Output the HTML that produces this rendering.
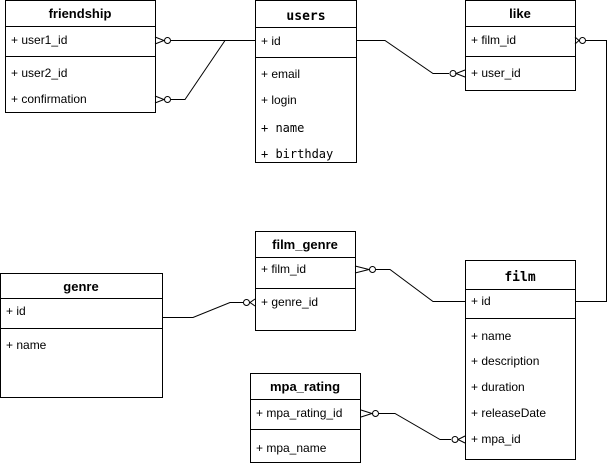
<!DOCTYPE html>
<html><head><style>body{margin:0;background:#fff}svg{display:block}</style></head><body>
<svg width="614" height="464" xmlns="http://www.w3.org/2000/svg" font-family="Liberation Sans, sans-serif" font-size="12" fill="#000">
<g fill="#fff" stroke="#000" stroke-width="1">
<rect x="5.5" y="0.5" width="150" height="112"/>
<rect x="255.5" y="0.5" width="101" height="162"/>
<rect x="465.5" y="0.5" width="110" height="90"/>
<rect x="255.5" y="231.5" width="100" height="99"/>
<rect x="0.5" y="273.5" width="162" height="124"/>
<rect x="465.5" y="260.5" width="110" height="199"/>
<rect x="250.5" y="373.5" width="110" height="89"/>
</g>
<g stroke="#000" stroke-width="1">
<line x1="5" y1="26.5" x2="155" y2="26.5"/><line x1="5" y1="56.5" x2="155" y2="56.5"/>
<line x1="255" y1="27.5" x2="356" y2="27.5"/><line x1="255" y1="57.5" x2="356" y2="57.5"/>
<line x1="465" y1="26.5" x2="575" y2="26.5"/><line x1="465" y1="56.5" x2="575" y2="56.5"/>
<line x1="255" y1="257.5" x2="355" y2="257.5"/><line x1="255" y1="288.5" x2="355" y2="288.5"/>
<line x1="0" y1="298.5" x2="162" y2="298.5"/><line x1="0" y1="328.5" x2="162" y2="328.5"/>
<line x1="465" y1="289.5" x2="575" y2="289.5"/><line x1="465" y1="318.5" x2="575" y2="318.5"/>
<line x1="250" y1="399.5" x2="360" y2="399.5"/><line x1="250" y1="429.5" x2="360" y2="429.5"/>
</g>
<g fill="none" stroke="#000" stroke-width="1">
<polyline points="171,40.5 255,40.5"/>
<polyline points="171,99.5 185,99.5 225,40.5"/>
<polyline points="356,40.5 385,40.5 433,73.5 449,73.5"/>
<polyline points="586,40.5 606.5,40.5 606.5,301.5 575,301.5"/>
<polyline points="376,269.5 390,269.5 433,301.5 465,301.5"/>
<polyline points="162,317.5 193,317.5 230,302.5 243,302.5"/>
<polyline points="379,413.5 395,413.5 440,439.5 451,439.5"/>
<circle cx="167.5" cy="40.5" r="3"/><path d="M155,37 L164,40.5 L155,44"/>
<circle cx="167.5" cy="99.5" r="3"/><path d="M155,96 L164,99.5 L155,103"/>
<circle cx="453" cy="73.5" r="3"/><path d="M465,70 L456,73.5 L465,77"/>
<circle cx="582.5" cy="40.5" r="3"/><path d="M575,37 L579,40.5 L575,44"/>
<circle cx="372.5" cy="269.5" r="3"/><path d="M355,266 L369,269.5 L355,273"/>
<circle cx="246.5" cy="302.5" r="3"/><path d="M255,299 L250,302.5 L255,306"/>
<circle cx="375.5" cy="413.5" r="3"/><path d="M361,410 L372,413.5 L361,417"/>
<circle cx="455" cy="439.5" r="3"/><path d="M465,436 L458,439.5 L465,443"/>
</g>
<g font-weight="bold" font-size="13" text-anchor="middle">
<text x="80" y="18">friendship</text>
<text x="306" y="20" font-family="DejaVu Sans Mono, monospace" font-size="13">users</text>
<text x="520" y="18">like</text>
<text x="305" y="249">film_genre</text>
<text x="81" y="291">genre</text>
<text x="520" y="281" font-family="DejaVu Sans Mono, monospace" font-size="13">film</text>
<text x="305" y="391">mpa_rating</text>
</g>
<g>
<text x="11" y="44">+ user1_id</text>
<text x="11" y="77">+ user2_id</text>
<text x="11" y="103">+ confirmation</text>
<text x="261" y="45">+ id</text>
<text x="261" y="78">+ email</text>
<text x="261" y="104">+ login</text>
<text x="261" y="132" font-family="DejaVu Sans Mono, monospace" font-size="12">+  name</text>
<text x="261" y="158" font-family="DejaVu Sans Mono, monospace" font-size="12">+ birthday</text>
<text x="471" y="44">+ film_id</text>
<text x="471" y="77">+ user_id</text>
<text x="261" y="273">+ film_id</text>
<text x="261" y="306">+ genre_id</text>
<text x="6" y="315">+ id</text>
<text x="6" y="349">+ name</text>
<text x="471" y="305">+ id</text>
<text x="471" y="340">+ name</text>
<text x="471" y="365">+ description</text>
<text x="471" y="391">+ duration</text>
<text x="471" y="417">+ releaseDate</text>
<text x="471" y="443">+ mpa_id</text>
<text x="256" y="417">+ mpa_rating_id</text>
<text x="256" y="452">+ mpa_name</text>
</g>
</svg>
</body></html>
